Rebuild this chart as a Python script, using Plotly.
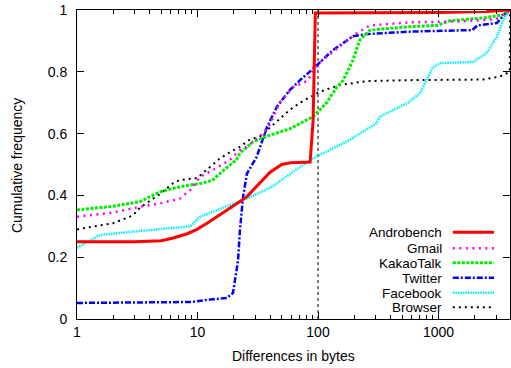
import math
import plotly.graph_objects as go

# ---------------- data ----------------
series_names = ["Androbench", "Gmail", "KakaoTalk", "Twitter", "Facebook", "Browser"]

andro_x = [1, 3, 5, 6.3, 8.2, 9.9, 12, 14.5, 19.7, 22.5, 25.7, 33, 40, 50, 60, 86, 91, 95, 300, 1000, 2500, 3920]
andro_y = [0.25, 0.25, 0.253, 0.262, 0.276, 0.29, 0.31, 0.331, 0.363, 0.38, 0.396, 0.44, 0.475, 0.5, 0.506, 0.508, 0.64, 0.99, 0.99, 0.992, 0.995, 1.0]

gmail_x = [1, 2, 3.33, 5, 7.15, 8.7, 10.5, 13.4, 18.6, 22.5, 25.7, 35, 40, 48, 62, 81, 103, 151, 209, 270, 580, 1500, 3000, 3920]
gmail_y = [0.331, 0.345, 0.363, 0.375, 0.39, 0.417, 0.46, 0.482, 0.515, 0.547, 0.557, 0.6, 0.63, 0.7, 0.75, 0.77, 0.83, 0.88, 0.925, 0.95, 0.96, 0.963, 0.97, 1.0]

kakao_x = [1, 2, 3.33, 4.9, 7.15, 11.1, 13.4, 16.3, 21, 22.5, 29, 40, 58, 91, 118, 143, 162, 195, 222, 270, 580, 970, 1240, 2340, 3500, 3920]
kakao_y = [0.353, 0.365, 0.38, 0.412, 0.428, 0.44, 0.45, 0.48, 0.515, 0.537, 0.574, 0.595, 0.615, 0.655, 0.7, 0.75, 0.773, 0.838, 0.903, 0.935, 0.946, 0.95, 0.965, 0.974, 0.985, 1.0]

twitter_x = [1, 5, 9, 12, 17.5, 19.7, 21.7, 22.5, 23.9, 25.7, 31, 37.8, 45.5, 58, 71, 91, 133, 195, 254, 580, 1900, 2100, 3050, 3600, 3920]
twitter_y = [0.052, 0.053, 0.055, 0.062, 0.068, 0.084, 0.19, 0.288, 0.396, 0.47, 0.525, 0.622, 0.686, 0.74, 0.773, 0.81, 0.87, 0.915, 0.922, 0.93, 0.935, 0.95, 0.958, 0.99, 1.0]

fb_x = [1, 1.55, 3.33, 8.7, 10.5, 13.4, 19.7, 25.7, 40, 86, 184, 307, 326, 560, 700, 800, 900, 1030, 1940, 2500, 3050, 3440, 3920]
fb_y = [0.23, 0.272, 0.285, 0.3, 0.331, 0.347, 0.374, 0.39, 0.424, 0.515, 0.58, 0.634, 0.655, 0.7, 0.73, 0.773, 0.815, 0.828, 0.832, 0.86, 0.913, 0.968, 1.0]

browser_x = [1, 2, 2.9, 3.33, 4.3, 4.9, 6.3, 7.15, 9.9, 12.7, 15.4, 18.6, 22.5, 27, 35, 40, 58, 71, 103, 151, 254, 580, 2340, 3250, 3900, 3920]
browser_y = [0.29, 0.31, 0.335, 0.36, 0.39, 0.405, 0.44, 0.45, 0.456, 0.493, 0.52, 0.54, 0.557, 0.58, 0.595, 0.62, 0.676, 0.7, 0.735, 0.757, 0.77, 0.773, 0.775, 0.785, 0.8, 1.0]

marker_x = [100, 100]
marker_y = [0, 1]

x_tick_vals = [1, 10, 100, 1000]
x_tick_text = ["1", "10", "100", "1000"]
y_tick_vals = [0, 0.2, 0.4, 0.6, 0.8, 1]
y_tick_text = ["0", "0.2", "0.4", "0.6", "0.8", "1"]
x_max = 3920

# ---------------- styles ----------------
styles = [
    dict(color="#ff0000", width=3, dash="solid"),
    dict(color="#ff00ff", width=2.5, dash="2px,4.5px"),
    dict(color="#00ee00", width=3, dash="3px,1.5px"),
    dict(color="#0000ff", width=2.5, dash="6px,2px,2px,2px"),
    dict(color="#00f0ff", width=2.5, dash="1.5px,1px"),
    dict(color="#000000", width=2, dash="2px,4px"),
]
data = [(andro_x, andro_y), (gmail_x, gmail_y), (kakao_x, kakao_y),
        (twitter_x, twitter_y), (fb_x, fb_y), (browser_x, browser_y)]

FONT = "Liberation Sans, Arial, Helvetica, sans-serif"

fig = go.Figure()
fig.add_trace(go.Scatter(x=marker_x, y=marker_y, mode="lines",
                         line=dict(color="black", width=1, dash="3px,3px"),
                         showlegend=False, hoverinfo="skip"))
# draw in reverse so Androbench is on top
for name, (xs, ys), st in reversed(list(zip(series_names, data, styles))):
    fig.add_trace(go.Scatter(x=xs, y=ys, mode="lines", name=name,
                             line=dict(color=st["color"], width=st["width"], dash=st["dash"]),
                             showlegend=False))

# manual gnuplot-style legend (text right-aligned, sample on the right)
row_y = [0.2806, 0.2288, 0.182, 0.1337, 0.0851, 0.0379]
for name, st, ry in zip(series_names, styles, row_y):
    fig.add_annotation(x=0.8476, y=ry, xref="paper", yref="paper", text=name,
                       showarrow=False, xanchor="right", yanchor="middle", height=14,
                       valign="middle",
                       font=dict(family=FONT, size=13.5, color="black"))
    fig.add_shape(type="line", xref="paper", yref="paper", x0=0.868, x1=0.963, y0=ry, y1=ry,
                  line=dict(color=st["color"], width=st["width"], dash=st["dash"]))

# axis titles
fig.add_annotation(x=0.499, y=-0.12, xref="paper", yref="paper", text="Differences in bytes",
                   showarrow=False, xanchor="center", yanchor="middle",
                   font=dict(family=FONT, size=14, color="black"))
fig.add_annotation(x=-0.1386, y=0.498, xref="paper", yref="paper", text="Cumulative frequency",
                   showarrow=False, xanchor="center", yanchor="middle", textangle=-90,
                   font=dict(family=FONT, size=14, color="black"))

fig.update_layout(
    width=511, height=368,
    margin=dict(l=77, r=1, t=10, b=49),
    plot_bgcolor="white", paper_bgcolor="white",
    font=dict(family=FONT, size=14, color="black"),
    showlegend=False,
)
fig.update_xaxes(
    type="log", range=[0, math.log10(x_max)], automargin=False,
    tickvals=x_tick_vals, ticktext=x_tick_text, ticklabeloverflow="allow",
    ticks="inside", ticklen=7, tickwidth=1, tickcolor="black",
    minor=dict(ticks="inside", ticklen=4, tickwidth=1, tickcolor="black", dtick="D1", showgrid=False),
    showline=True, linecolor="black", linewidth=1, mirror="ticks",
    showgrid=False, zeroline=False,
)
fig.update_yaxes(
    range=[0, 1], tickvals=y_tick_vals, ticktext=y_tick_text, automargin=False,
    ticklabeloverflow="allow",
    ticks="inside", ticklen=7, tickwidth=1, tickcolor="black",
    showline=True, linecolor="black", linewidth=1, mirror="ticks",
    showgrid=False, zeroline=False, ticklabelstandoff=6,
)

# remove the default 8px page margin so the figure fills the window exactly
fig.write_html("out.html",
               config={"displayModeBar": False},
               post_script="document.body.style.margin='0';document.body.style.overflow='hidden';")
